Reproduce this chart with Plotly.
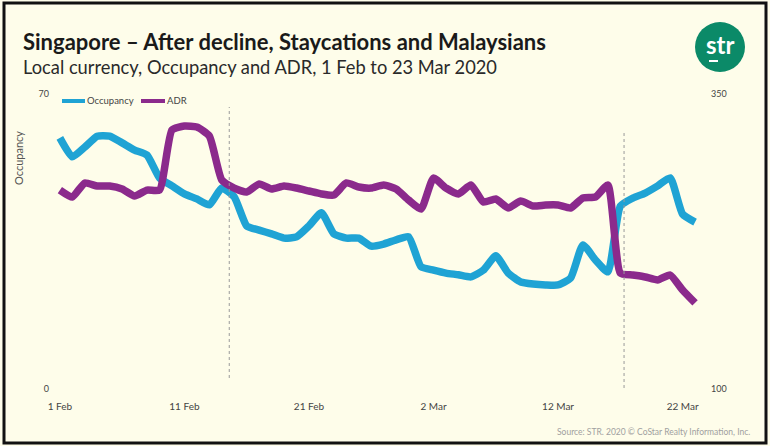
import pandas as pd
import plotly.graph_objects as go

# Daily series, 1 Feb - 23 Mar 2020
dates = pd.date_range("2020-02-01", "2020-03-23", freq="D")

occupancy = [59.6, 55.1, 57.4, 60.0, 60.0, 58.4, 56.7, 55.5, 50.1, 48.2,
             46.3, 45.1, 43.7, 47.7, 45.6, 38.7, 37.7, 36.8, 35.8, 36.1,
             38.7, 41.8, 36.8, 35.8, 35.8, 33.9, 34.4, 35.4, 36.1, 29.0,
             28.2, 27.5, 27.1, 26.6, 28.2, 31.6, 27.5, 25.4, 24.9, 24.7,
             24.7, 26.3, 34.2, 30.6, 27.8, 43.4, 45.3, 46.5, 48.2, 50.1,
             41.5, 39.6]

adr = [268.6, 262.7, 274.6, 272.0, 272.0, 269.5, 263.6, 268.6, 268.6, 319.5,
       322.9, 322.0, 314.4, 277.1, 270.3, 266.9, 273.7, 269.5, 272.0, 270.3,
       267.8, 265.3, 264.4, 274.6, 271.2, 270.3, 272.9, 269.5, 260.2, 252.5,
       278.8, 270.3, 265.3, 272.9, 258.5, 261.0, 253.4, 259.3, 255.1, 255.9,
       255.9, 253.4, 261.9, 262.7, 272.9, 198.3, 196.6, 194.9, 192.4, 196.6,
       183.9, 172.9]

tick_dates = ["2020-02-01", "2020-02-11", "2020-02-21", "2020-03-02",
              "2020-03-12", "2020-03-22"]
tick_labels = ["1 Feb", "11 Feb", "21 Feb", "2 Mar", "12 Mar", "22 Mar"]

occ_range = [0, 70]
adr_range = [100, 350]

BLUE = "#1FA3D4"
PURPLE = "#8B2A8C"
BG = "#FEFDEA"
FONT = "Lato"

day0 = pd.Timestamp("2020-02-01")
x_range = [day0 - pd.Timedelta(hours=19), day0 + pd.Timedelta(hours=52.2 * 24)]

fig = go.Figure()
fig.add_trace(go.Scatter(x=dates, y=occupancy, name="Occupancy", mode="lines",
                         line=dict(color=BLUE, width=7.5, shape="spline", smoothing=0.5),
                         yaxis="y"))
fig.add_trace(go.Scatter(x=dates, y=adr, name="ADR", mode="lines",
                         line=dict(color=PURPLE, width=7.5, shape="spline", smoothing=0.5),
                         yaxis="y2"))

W, H = 770, 446
L, R, T, B = 50, 60, 94, 57


def px(x):
    return (x - L) / (W - L - R)


def py(y):
    return (H - B - y) / (H - T - B)


shapes = [
    # outer frame
    dict(type="rect", xref="paper", yref="paper", x0=px(4), x1=px(766),
         y0=py(443), y1=py(3), line=dict(color="#111", width=3)),
    # event markers
    dict(type="line", xref="x", yref="paper",
         x0=day0 + pd.Timedelta(hours=13.6 * 24), x1=day0 + pd.Timedelta(hours=13.6 * 24),
         y0=py(378), y1=py(107), line=dict(color="#9a9a9a", width=1, dash="dot")),
    dict(type="line", xref="x", yref="paper",
         x0=day0 + pd.Timedelta(hours=45.3 * 24), x1=day0 + pd.Timedelta(hours=45.3 * 24),
         y0=py(388), y1=py(133), line=dict(color="#9a9a9a", width=1, dash="dot")),
    # legend keys
    dict(type="line", xref="paper", yref="paper", x0=px(62), x1=px(85),
         y0=py(101), y1=py(101), line=dict(color=BLUE, width=4)),
    dict(type="line", xref="paper", yref="paper", x0=px(141), x1=px(165),
         y0=py(101), y1=py(101), line=dict(color=PURPLE, width=4)),
    # logo disc
    dict(type="circle", xref="paper", yref="paper", x0=px(695), x1=px(745),
         y0=py(72), y1=py(22), line=dict(width=0), fillcolor="#0B8A68"),
    dict(type="line", xref="paper", yref="paper", x0=px(709), x1=px(718),
         y0=py(61), y1=py(61), line=dict(color="white", width=2)),
]

annotations = [
    dict(text="<b>Singapore – After decline, Staycations and Malaysians</b>",
         xref="paper", yref="paper", x=px(21), y=py(42), xanchor="left", yanchor="middle",
         showarrow=False, font=dict(family=FONT, size=22, color="#1a1a1a")),
    dict(text="Local currency, Occupancy and ADR, 1 Feb to 23 Mar 2020",
         xref="paper", yref="paper", x=px(21), y=py(67), xanchor="left", yanchor="middle",
         showarrow=False, font=dict(family=FONT, size=18.3, color="#2a2a2a")),
    dict(text="<b>str</b>", xref="paper", yref="paper", x=px(720), y=py(45),
         xanchor="center", yanchor="middle", showarrow=False,
         font=dict(family=FONT, size=24, color="white")),
    dict(text="Occupancy", xref="paper", yref="paper", x=px(18), y=py(158),
         xanchor="center", yanchor="middle", textangle=-90, showarrow=False,
         font=dict(family=FONT, size=11, color="#555")),
    dict(text="Occupancy", xref="paper", yref="paper", x=px(85), y=py(101),
         xanchor="left", yanchor="middle", showarrow=False,
         font=dict(family=FONT, size=9.5, color="#444")),
    dict(text="ADR", xref="paper", yref="paper", x=px(165), y=py(101),
         xanchor="left", yanchor="middle", showarrow=False,
         font=dict(family=FONT, size=9.5, color="#444")),
    dict(text="Source: STR. 2020 © CoStar Realty Information, Inc.",
         xref="paper", yref="paper", x=px(752), y=py(432), xanchor="right",
         yanchor="middle", showarrow=False,
         font=dict(family=FONT, size=8.5, color="#a0a0a0")),
]

fig.update_layout(
    width=W, height=H,
    margin=dict(l=L, r=R, t=T, b=B),
    paper_bgcolor=BG, plot_bgcolor=BG,
    font=dict(family=FONT, size=9, color="#444"),
    showlegend=False,
    xaxis=dict(range=x_range, tickvals=tick_dates, ticktext=tick_labels,
               showgrid=False, zeroline=False, showline=False,
               ticks="outside", ticklen=8, tickcolor="rgba(0,0,0,0)",
               tickfont=dict(size=10, color="#444")),
    yaxis=dict(range=occ_range, tickvals=[0, 70], showgrid=False, zeroline=False,
               showline=False, ticks="", tickfont=dict(size=9, color="#444")),
    yaxis2=dict(range=adr_range, tickvals=[100, 350], overlaying="y", side="right",
                showgrid=False, zeroline=False, showline=False, ticks="",
                tickfont=dict(size=9, color="#444")),
    shapes=shapes,
    annotations=annotations,
)

fig.write_html("out.html")
